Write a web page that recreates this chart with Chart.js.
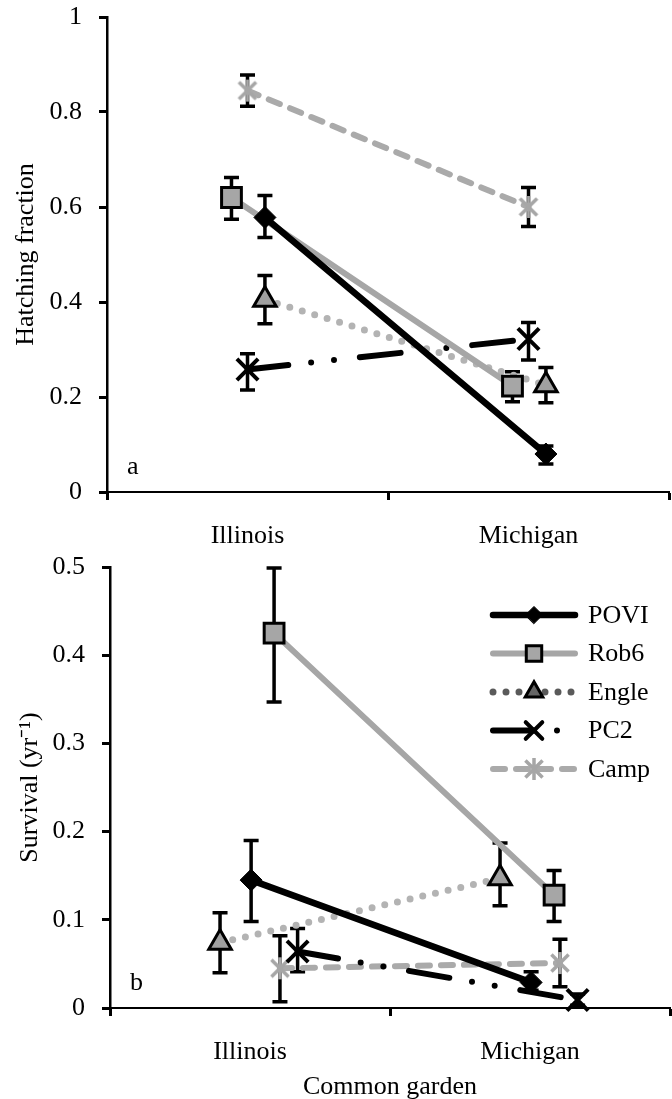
<!DOCTYPE html>
<html>
<head>
<meta charset="utf-8">
<script src="https://cdn.jsdelivr.net/npm/chart.js@4.4.1/dist/chart.umd.min.js"></script>
<style>
  html, body { margin: 0; padding: 0; background: #fff; overflow: hidden; }
  .panel { position: relative; width: 672px; }
  #wrapA { height: 548px; }
  #wrapB { height: 551px; }
</style>
</head>
<body>
<div class="panel" id="wrapA"><canvas id="chartA"></canvas></div>
<div class="panel" id="wrapB"><canvas id="chartB"></canvas></div>
<script>
// ---------- Data ----------
const gardens = ["Illinois", "Michigan"];
const lineNames = ["POVI", "Rob6", "Engle", "PC2", "Camp"];

// (a) hatching fraction, [Illinois, Michigan]
const hatchPOVI = [0.578, 0.080];
const hatchRob6 = [0.620, 0.223];
const hatchEngle = [0.405, 0.225];
const hatchPC2 = [0.258, 0.322];
const hatchCamp = [0.845, 0.600];
// error bar ends [low, high]
const hatchErrPOVI = [[0.536, 0.624], [0.059, 0.097]];
const hatchErrRob6 = [[0.574, 0.662], [0.190, 0.253]];
const hatchErrEngle = [[0.354, 0.456], [0.188, 0.262]];
const hatchErrPC2 = [[0.215, 0.291], [0.278, 0.357]];
const hatchErrCamp = [[0.812, 0.878], [0.559, 0.641]];

// (b) survival per year, [Illinois, Michigan]
const survPOVI = [0.145, 0.029];
const survRob6 = [0.425, 0.128];
const survEngle = [0.074, 0.147];
const survPC2 = [0.064, 0.009];
const survCamp = [0.045, 0.051];
const survErrPOVI = [[0.098, 0.190], [0.020, 0.041]];
const survErrRob6 = [[0.347, 0.499], [0.098, 0.156]];
const survErrEngle = [[0.040, 0.108], [0.116, 0.187]];
const survErrPC2 = [[0.041, 0.090], [0.003, 0.016]];
const survErrCamp = [[0.007, 0.082], [0.024, 0.078]];

// side-by-side dodge within each garden (category units), order as lineNames
const dodgeA = [0.062, -0.057, 0.062, 0, 0];
const dodgeB = [0.004, 0.086, -0.107, 0.17, 0.107];

// ---------- Styles ----------
const FONT = "'Liberation Serif', 'Times New Roman', serif";
Chart.defaults.font.family = FONT;
Chart.defaults.font.size = 26;
Chart.defaults.color = "#000";

function asterisk(color, size, lw) {
  const c = document.createElement("canvas");
  c.width = c.height = size;
  const g = c.getContext("2d");
  const m = size / 2, a = size / 2 - 2, d = a * 0.78;
  g.strokeStyle = color;
  g.lineWidth = lw;
  g.beginPath();
  g.moveTo(m - d, m - d); g.lineTo(m + d, m + d);
  g.moveTo(m + d, m - d); g.lineTo(m - d, m + d);
  g.moveTo(m, m - a); g.lineTo(m, m + a);
  g.stroke();
  return c;
}

const styles = [
  { color: "#000", dash: [], width: 6.5, point: "rectRot", radius: 11, fill: "#000", pBorder: "#000", pBw: 1 },
  { color: "#a6a6a6", dash: [], width: 6, point: "rect", radius: 14, fill: "#a6a6a6", pBorder: "#000", pBw: 3 },
  { color: "#b3b3b3", dash: [0, 13], width: 7, point: "triangle", radius: 13, fill: "#a0a0a0", pBorder: "#000", pBw: 3 },
  { color: "#000", dash: [41, 23, 0, 23, 0, 26], width: 6, point: "crossRot", radius: 15, fill: "#000", pBorder: "#000", pBw: 4 },
  { color: "#aaaaaa", dash: [12, 11], width: 6, point: asterisk("#a6a6a6", 26, 3.5), radius: 13, fill: "#a6a6a6", pBorder: "#a6a6a6", pBw: 3 },
];

function makeDatasets(values, errs, dodge) {
  return values.map((vals, k) => {
    const s = styles[k];
    return {
      label: lineNames[k],
      data: vals.map((v, i) => ({ x: i + 0.5 + dodge[k], y: v })),
      errs: errs[k],
      borderColor: s.color,
      borderWidth: s.width,
      borderDash: s.dash,
      borderCapStyle: "round",
      pointStyle: s.point,
      pointRadius: s.radius,
      pointBackgroundColor: s.fill,
      pointBorderColor: s.pBorder,
      pointBorderWidth: s.pBw,
      clip: false,
    };
  });
}

// ---------- Plugins ----------
const errorBars = {
  id: "errorBars",
  beforeDatasetsDraw(chart) {
    const ctx = chart.ctx;
    const y = chart.scales.y;
    ctx.save();
    ctx.strokeStyle = "#000";
    ctx.lineWidth = 3.5;
    ctx.setLineDash([]);
    chart.data.datasets.forEach((ds, k) => {
      const meta = chart.getDatasetMeta(k);
      meta.data.forEach((pt, i) => {
        const [lo, hi] = ds.errs[i];
        const yl = y.getPixelForValue(lo), yh = y.getPixelForValue(hi);
        ctx.beginPath();
        ctx.moveTo(pt.x, yl); ctx.lineTo(pt.x, yh);
        ctx.moveTo(pt.x - 7.5, yl); ctx.lineTo(pt.x + 7.5, yl);
        ctx.moveTo(pt.x - 7.5, yh); ctx.lineTo(pt.x + 7.5, yh);
        ctx.stroke();
      });
    });
    ctx.restore();
  },
};

const panelLetter = {
  id: "panelLetter",
  afterDraw(chart, args, opts) {
    const ctx = chart.ctx;
    ctx.save();
    ctx.font = "26px " + FONT;
    ctx.fillStyle = "#000";
    ctx.textBaseline = "alphabetic";
    ctx.fillText(opts.text, chart.chartArea.left + 20, chart.chartArea.bottom - 18);
    ctx.restore();
  },
};

const lineLegend = {
  id: "lineLegend",
  afterDraw(chart, args, opts) {
    if (!opts.show) return;
    const ctx = chart.ctx;
    const x0 = 493, x1 = 575, tx = 588;
    ctx.save();
    chart.data.datasets.forEach((ds, k) => {
      const yy = 67 + k * 38.5;
      const dark = k === 2 ? "#5a5a5a" : ds.borderColor;
      ctx.strokeStyle = dark;
      ctx.lineWidth = ds.borderWidth;
      ctx.lineCap = "round";
      ctx.setLineDash(ds.borderDash);
      ctx.beginPath();
      ctx.moveTo(x0, yy); ctx.lineTo(x1, yy);
      ctx.stroke();
      ctx.setLineDash([]);
      ctx.fillStyle = k === 2 ? "#666" : ds.pointBackgroundColor;
      ctx.strokeStyle = ds.pointBorderColor;
      ctx.lineWidth = ds.pointBorderWidth;
      Chart.helpers.drawPoint(ctx, {
        pointStyle: ds.pointStyle,
        rotation: 0,
        radius: ds.pointRadius * 0.78,
        borderWidth: ds.pointBorderWidth,
      }, (x0 + x1) / 2, yy);
      ctx.fillStyle = "#000";
      ctx.font = "26px " + FONT;
      ctx.textBaseline = "middle";
      ctx.fillText(ds.label, tx, yy + 1);
    });
    ctx.restore();
  },
};

// ---------- Axes ----------
function noScalePadding(s) {
  s.paddingLeft = 0;
  s.paddingRight = 0;
  s.paddingTop = 0;
  s.paddingBottom = 0;
}

function gardenAxis(height, title) {
  return {
    type: "linear",
    min: 0,
    max: 2,
    ticks: {
      stepSize: 0.5,
      autoSkip: false,
      maxRotation: 0,
      padding: 21,
      callback: (v) => (v % 1 === 0.5 ? gardens[Math.floor(v)] : ""),
    },
    grid: {
      drawOnChartArea: false,
      drawTicks: true,
      tickLength: 8,
      tickWidth: 3,
      tickColor: (c) => (c.tick && c.tick.value % 1 === 0 ? "#000" : "rgba(0,0,0,0)"),
    },
    border: { display: true, color: "#000", width: 2 },
    title: title
      ? { display: true, text: title, padding: { top: 0, bottom: -4 } }
      : { display: false },
    afterFit: (s) => { s.height = height; noScalePadding(s); },
  };
}

function valueAxis(max, step, width, title, titlePad) {
  return {
    min: 0,
    max,
    ticks: { stepSize: step, padding: 17, callback: (v) => String(Number(v.toFixed(2))) },
    grid: { drawOnChartArea: false, drawTicks: true, tickLength: 8, tickWidth: 3, tickColor: "#000" },
    border: { display: true, color: "#000", width: 2.5 },
    title: { display: true, text: title, padding: { top: titlePad, bottom: 0 } },
    afterFit: (s) => { s.width = width; noScalePadding(s); },
  };
}

function makeChart(id, datasets, opts) {
  return new Chart(document.getElementById(id), {
    type: "line",
    data: { datasets },
    options: {
      responsive: true,
      maintainAspectRatio: false,
      animation: false,
      layout: { padding: opts.padding, autoPadding: false },
      scales: { x: opts.x, y: opts.y },
      plugins: {
        legend: { display: false },
        tooltip: { enabled: false },
        panelLetter: { text: opts.letter },
        lineLegend: { show: opts.legend },
      },
    },
    plugins: [errorBars, panelLetter, lineLegend],
  });
}

makeChart(
  "chartA",
  makeDatasets(
    [hatchPOVI, hatchRob6, hatchEngle, hatchPC2, hatchCamp],
    [hatchErrPOVI, hatchErrRob6, hatchErrEngle, hatchErrPC2, hatchErrCamp],
    dodgeA
  ),
  {
    padding: { top: 17, right: 3, left: 0, bottom: 0 },
    x: gardenAxis(56, null),
    y: valueAxis(1, 0.2, 107, "Hatching fraction", 11),
    letter: "a",
    legend: false,
  }
);

makeChart(
  "chartB",
  makeDatasets(
    [survPOVI, survRob6, survEngle, survPC2, survCamp],
    [survErrPOVI, survErrRob6, survErrEngle, survErrPC2, survErrCamp],
    dodgeB
  ),
  {
    padding: { top: 19, right: 2, left: 0, bottom: 0 },
    x: gardenAxis(91, "Common garden"),
    y: valueAxis(0.5, 0.1, 110, "Survival (yr\u207B\u00B9)", 15),
    letter: "b",
    legend: true,
  }
);
</script>
</body>
</html>
